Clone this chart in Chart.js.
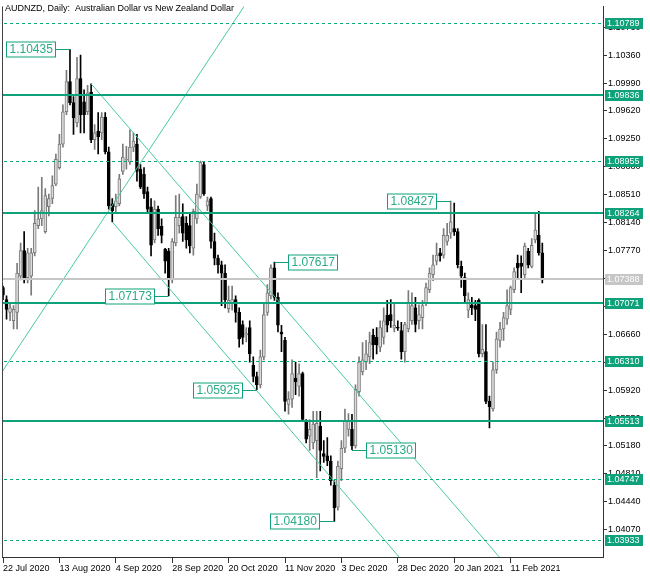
<!DOCTYPE html>
<html lang="en">
<head>
<meta charset="UTF-8">
<title>AUDNZD Daily</title>
<script src="https://cdn.jsdelivr.net/npm/chart.js"></script>
<style>
  body { margin: 0; background: #fff; }
  canvas { display: block; }
</style>
</head>
<body>
<canvas id="myChart" width="650" height="576"></canvas>
<script>
  // daily bars, 22 Jul 2020 .. late Feb 2021
  const opens = [
    1.0728, 1.0712, 1.0695, 1.0684, 1.0695, 1.0743, 1.0777, 1.0741, 1.0743, 1.0774,
    1.0810, 1.0819, 1.0802, 1.0835, 1.0846, 1.0865, 1.0887, 1.0918, 1.0961, 1.1001,
    1.0973, 1.0946, 1.1005, 1.0974, 1.0961, 1.0987, 1.0924, 1.0935, 1.0933, 1.0954,
    1.0908, 1.0839, 1.0835, 1.0839, 1.0882, 1.0897, 1.0894, 1.0914, 1.0918, 1.0885,
    1.0878, 1.0855, 1.0835, 1.0791, 1.0832, 1.0809, 1.0779, 1.0776, 1.0738, 1.0787,
    1.0810, 1.0822, 1.0813, 1.0810, 1.0780, 1.0819, 1.0848, 1.0891, 1.0836, 1.0846,
    1.0789, 1.0767, 1.0758, 1.0747, 1.0700, 1.0708, 1.0712, 1.0695, 1.0679, 1.0665,
    1.0675, 1.0625, 1.0610, 1.0599, 1.0636, 1.0695, 1.0717, 1.0754, 1.0715, 1.0669,
    1.0658, 1.0573, 1.0580, 1.0608, 1.0597, 1.0614, 1.0551, 1.0531, 1.0522, 1.0525,
    1.0544, 1.0508, 1.0505, 1.0498, 1.0466, 1.0437, 1.0488, 1.0515, 1.0540, 1.0540,
    1.0518, 1.0590, 1.0616, 1.0629, 1.0636, 1.0665, 1.0662, 1.0649, 1.0662, 1.0691,
    1.0692, 1.0674, 1.0675, 1.0671, 1.0643, 1.0673, 1.0684, 1.0701, 1.0684, 1.0688,
    1.0708, 1.0725, 1.0745, 1.0763, 1.0774, 1.0771, 1.0789, 1.0800, 1.0806, 1.0802,
    1.0756, 1.0741, 1.0698, 1.0705, 1.0704, 1.0711, 1.0640, 1.0643, 1.0577, 1.0567,
    1.0619, 1.0658, 1.0673, 1.0686, 1.0699, 1.0725, 1.0760, 1.0760, 1.0745, 1.0776,
    1.0756, 1.0791, 1.0797, 1.0774
  ];
  const highs = [
    1.0730, 1.0717, 1.0708, 1.0704, 1.0760, 1.0787, 1.0802, 1.0780, 1.0780, 1.0830,
    1.0861, 1.0874, 1.0859, 1.0852, 1.0876, 1.0905, 1.0931, 1.0970, 1.1016, 1.10435,
    1.0981, 1.1033, 1.1036, 1.0990, 1.0996, 1.0998, 1.0944, 1.0960, 1.0960, 1.0960,
    1.0914, 1.0846, 1.0852, 1.0878, 1.0918, 1.0915, 1.0937, 1.0933, 1.0931, 1.0891,
    1.0887, 1.0861, 1.0846, 1.0843, 1.0836, 1.0819, 1.0780, 1.0780, 1.0793, 1.0850,
    1.0852, 1.0839, 1.0822, 1.0826, 1.0832, 1.0865, 1.08955, 1.0894, 1.0848, 1.0848,
    1.0800, 1.0771, 1.0763, 1.0758, 1.0730, 1.0730, 1.0717, 1.0701, 1.0684, 1.0675,
    1.0684, 1.0636, 1.0616, 1.0645, 1.0708, 1.0732, 1.0758, 1.07617, 1.0721, 1.0678,
    1.0662, 1.0590, 1.0632, 1.0629, 1.0627, 1.0616, 1.0553, 1.0553, 1.0564, 1.0564,
    1.0564, 1.0525, 1.0529, 1.0505, 1.0472, 1.0498, 1.0525, 1.0567, 1.0561, 1.0560,
    1.0599, 1.0636, 1.0655, 1.0658, 1.0669, 1.0673, 1.0675, 1.0684, 1.0701, 1.0711,
    1.0712, 1.0708, 1.0684, 1.0682, 1.0682, 1.0724, 1.0721, 1.0715, 1.0705, 1.0711,
    1.0734, 1.0754, 1.0771, 1.0787, 1.0780, 1.0806, 1.0813, 1.08427, 1.0840, 1.0806,
    1.0763, 1.0747, 1.0721, 1.0715, 1.0711, 1.0713, 1.0679, 1.0679, 1.0584, 1.0629,
    1.0669, 1.0682, 1.0695, 1.0725, 1.0730, 1.0754, 1.0771, 1.0770, 1.0787, 1.0780,
    1.0793, 1.0826, 1.0829, 1.0787
  ];
  const lows = [
    1.0712, 1.0686, 1.0684, 1.0673, 1.0673, 1.0738, 1.0734, 1.0734, 1.0718, 1.0770,
    1.0806, 1.0810, 1.0800, 1.0823, 1.0839, 1.0863, 1.0885, 1.0914, 1.0957, 1.0970,
    1.0931, 1.0941, 1.0933, 1.0933, 1.0957, 1.0920, 1.0911, 1.0905, 1.0924, 1.0905,
    1.0832, 1.0815, 1.0826, 1.0836, 1.0878, 1.0885, 1.0891, 1.0908, 1.0869, 1.0859,
    1.0846, 1.0826, 1.0770, 1.0787, 1.0797, 1.0787, 1.0747, 1.07173, 1.0734, 1.0783,
    1.0800, 1.0789, 1.0780, 1.0774, 1.0771, 1.0813, 1.0846, 1.0850, 1.0830, 1.0780,
    1.0758, 1.0747, 1.0704, 1.0701, 1.0695, 1.0698, 1.0682, 1.0649, 1.0653, 1.0656,
    1.0629, 1.0603, 1.05925, 1.0595, 1.0632, 1.0691, 1.0713, 1.0711, 1.0669, 1.0643,
    1.0564, 1.0560, 1.0569, 1.0586, 1.0584, 1.0551, 1.0522, 1.0512, 1.0514, 1.0476,
    1.0485, 1.0496, 1.0492, 1.0466, 1.0418, 1.0433, 1.0472, 1.0509, 1.0531, 1.0513,
    1.0515, 1.0584, 1.0612, 1.0619, 1.0627, 1.0633, 1.0640, 1.0643, 1.0653, 1.0669,
    1.0675, 1.0669, 1.0671, 1.0633, 1.0629, 1.0669, 1.0679, 1.0669, 1.0673, 1.0673,
    1.0704, 1.0721, 1.0737, 1.0758, 1.0763, 1.0767, 1.0784, 1.0793, 1.0797, 1.0754,
    1.0728, 1.0708, 1.0688, 1.0692, 1.0684, 1.0636, 1.0636, 1.0574, 1.0542, 1.0564,
    1.0614, 1.0649, 1.0658, 1.0679, 1.0692, 1.0721, 1.0741, 1.0721, 1.0741, 1.0754,
    1.0754, 1.0787, 1.0771, 1.0734
  ];
  const closes = [
    1.0718, 1.0699, 1.0701, 1.0699, 1.0747, 1.0777, 1.0741, 1.0774, 1.0774, 1.0813,
    1.0819, 1.0830, 1.0850, 1.0846, 1.0863, 1.0898, 1.0918, 1.0961, 1.1001, 1.0973,
    1.0953, 1.1005, 1.0957, 1.0957, 1.0986, 1.0924, 1.0933, 1.0928, 1.0954, 1.0908,
    1.0836, 1.0830, 1.0843, 1.0872, 1.0901, 1.0898, 1.0914, 1.0922, 1.0882, 1.0861,
    1.0852, 1.0832, 1.0784, 1.0832, 1.0806, 1.0797, 1.0763, 1.0738, 1.0789, 1.0821,
    1.0821, 1.0800, 1.0791, 1.0783, 1.0829, 1.0852, 1.0894, 1.0852, 1.0843, 1.0789,
    1.0767, 1.0758, 1.0747, 1.0712, 1.0711, 1.0712, 1.0695, 1.0660, 1.0662, 1.0667,
    1.0640, 1.0610, 1.0599, 1.0636, 1.0692, 1.0721, 1.0754, 1.0715, 1.0678, 1.0666,
    1.0577, 1.0580, 1.0614, 1.0603, 1.0614, 1.0553, 1.0527, 1.0540, 1.0547, 1.0548,
    1.0512, 1.0504, 1.0498, 1.0472, 1.0436, 1.0491, 1.0515, 1.0551, 1.0551, 1.0518,
    1.0593, 1.0629, 1.0632, 1.0640, 1.0655, 1.0652, 1.0652, 1.0675, 1.0684, 1.0678,
    1.0684, 1.0678, 1.0674, 1.0643, 1.0679, 1.0708, 1.0704, 1.0679, 1.0692, 1.0704,
    1.0728, 1.0747, 1.0758, 1.0771, 1.0770, 1.0797, 1.0797, 1.0815, 1.0802, 1.0758,
    1.0743, 1.0717, 1.0712, 1.0701, 1.0699, 1.0640, 1.0646, 1.0577, 1.0570, 1.0619,
    1.0660, 1.0673, 1.0688, 1.0704, 1.0728, 1.0749, 1.0754, 1.0756, 1.0783, 1.0758,
    1.0784, 1.0804, 1.0774, 1.07388
  ];

  const dateTickBars = [0, 16, 32, 48, 64, 80, 96, 112, 128, 144];
  const dateLabels = ['22 Jul 2020', '13 Aug 2020', '4 Sep 2020', '28 Sep 2020', '20 Oct 2020',
                      '11 Nov 2020', '3 Dec 2020', '28 Dec 2020', '20 Jan 2021', '11 Feb 2021'];
  const priceTicks = [1.10730, 1.10360, 1.09990, 1.09620, 1.09250, 1.08880, 1.08510, 1.08140, 1.07770, 1.07400,
                      1.07030, 1.06660, 1.06290, 1.05920, 1.05550, 1.05180, 1.04810, 1.04440, 1.04070];

  const solidLevels = [1.09836, 1.08264, 1.07071, 1.05513];
  const dashedLevels = [1.10789, 1.08955, 1.06310, 1.04747, 1.03933];
  const lastPrice = 1.07388;

  // trend lines: [bar, price, bar, price]
  const trendLines = [
    [-1, 1.0611, 70, 1.1112],
    [25, 1.0998, 145, 1.0348],
    [31, 1.0815, 118, 1.0340]
  ];

  // swing high / low tags
  const swingBars = [19, 127, 77, 47, 72, 99, 94];
  const swingPrices = [1.10435, 1.08427, 1.07617, 1.07173, 1.05925, 1.05130, 1.04180];
  const swingSides = ['left', 'left', 'right', 'left', 'left', 'right', 'left'];

  const GREEN = '#0fa27a';
  const TREND = '#46cba2';
  const TAG_TEXT = '#2aaa85';
  const GREY = '#7a7a7a';

  const bars = opens.map((o, i) => i);
  const isBull = bars.map(i => closes[i] >= opens[i]);

  const overlay = {
    id: 'overlay',
    afterDatasetsDraw(chart) {
      const c = chart.ctx, a = chart.chartArea, y = chart.scales.y;
      c.save();
      c.beginPath();
      c.rect(a.left, a.top, a.right - a.left, a.bottom - a.top);
      c.clip();

      let py = Math.round(y.getPixelForValue(lastPrice));
      c.strokeStyle = '#c6c6c6';
      c.lineWidth = 2;
      c.beginPath(); c.moveTo(a.left, py); c.lineTo(a.right, py); c.stroke();

      c.strokeStyle = GREEN;
      solidLevels.forEach(v => {
        py = Math.round(y.getPixelForValue(v));
        c.beginPath(); c.moveTo(a.left, py); c.lineTo(a.right, py); c.stroke();
      });

      // dotted levels: short green dashes
      c.fillStyle = '#0aa878';
      dashedLevels.forEach(v => {
        py = Math.round(y.getPixelForValue(v));
        for (let px = a.left + 2; px < a.right; px += 6) {
          c.fillRect(px, py, 3, 1);
        }
      });
      c.restore();

      // left frame
      c.save();
      c.strokeStyle = '#444';
      c.lineWidth = 1;
      c.beginPath();
      c.moveTo(a.left + 0.5, a.top);
      c.lineTo(a.left + 0.5, a.bottom);
      c.stroke();
      c.restore();
    },
    afterDraw(chart) {
      const c = chart.ctx, a = chart.chartArea, x = chart.scales.x, y = chart.scales.y;
      c.save();

      // price tags on the right axis
      c.font = '9px "Liberation Sans"';
      c.textBaseline = 'middle';
      const tag = (v, col) => {
        const py = Math.round(y.getPixelForValue(v));
        c.fillStyle = col;
        c.fillRect(a.right + 2, py - 5, 38, 11);
        c.fillStyle = '#fff';
        c.fillText(v.toFixed(5), a.right + 4, py + 0.5);
      };
      tag(lastPrice, '#c6c6c6');
      solidLevels.concat(dashedLevels).forEach(v => tag(v, GREEN));

      // swing tags
      c.font = '12px "Liberation Sans"';
      swingBars.forEach((b, k) => {
        const px = x.getPixelForValue(b);
        const py = Math.round(y.getPixelForValue(swingPrices[k])) + 0.5;
        const txt = swingPrices[k].toFixed(5);
        const w = Math.round(c.measureText(txt).width) + 6;
        const h = 15;
        let bx;
        if (swingSides[k] === 'left') bx = Math.round(px - 15 - w) + 0.5;
        else bx = Math.round(px + 14) + 0.5;
        const by = Math.round(py - h / 2);
        c.strokeStyle = GREEN;
        c.lineWidth = 1;
        c.beginPath();
        if (swingSides[k] === 'left') { c.moveTo(bx + w, py); c.lineTo(px, py); }
        else { c.moveTo(bx, py); c.lineTo(px, py); }
        c.stroke();
        c.fillStyle = '#fff';
        c.fillRect(bx, by, w, h);
        c.strokeRect(bx, by, w, h);
        c.fillStyle = TAG_TEXT;
        c.fillText(txt, bx + 3, by + h / 2 + 0.5);
      });

      // title
      c.font = '9px "Liberation Sans"';
      c.fillStyle = '#000';
      c.fillText('AUDNZD, Daily:  Australian Dollar vs New Zealand Dollar', 5, 9);
      c.restore();
    }
  };

  const ctx = document.getElementById('myChart');

  new Chart(ctx, {
    type: 'bar',
    data: {
      datasets: [
        ...trendLines.map(t => ({
          type: 'line',
          data: [{x: t[0], y: t[1]}, {x: t[2], y: t[3]}],
          borderColor: TREND,
          borderWidth: 1,
          pointRadius: 0,
          order: 0
        })),
        {
          data: bars.map(i => ({x: i, y: [opens[i], closes[i]]})),
          backgroundColor: bars.map(i => isBull[i] ? '#dcdcdc' : '#000000'),
          borderColor: bars.map(i => isBull[i] ? GREY : '#000000'),
          borderWidth: 1,
          borderSkipped: false,
          barThickness: 3,
          minBarLength: 1,
          grouped: false,
          order: 1
        },
        {
          data: bars.map(i => ({x: i, y: [lows[i], highs[i]]})),
          backgroundColor: bars.map(i => isBull[i] ? GREY : '#000000'),
          borderWidth: 0,
          barThickness: 1,
          grouped: false,
          order: 2
        }
      ]
    },
    options: {
      responsive: false,
      animation: false,
      devicePixelRatio: 1,
      layout: { padding: { left: 2, top: 0, right: 0, bottom: 0 } },
      plugins: { legend: { display: false }, tooltip: { enabled: false } },
      scales: {
        x: {
          type: 'linear',
          min: -0.284,
          max: 170.21,
          offset: false,
          afterBuildTicks: s => { s.ticks = dateTickBars.map(v => ({value: v})); },
          afterFit: s => { s.height = 19; },
          grid: { offset: false, drawOnChartArea: false, drawTicks: true, tickLength: 6, color: '#333' },
          border: { display: true, color: '#333' },
          ticks: {
            autoSkip: false,
            maxRotation: 0,
            align: 'start',
            padding: 0,
            color: '#000',
            font: { family: 'Liberation Sans', size: 9 },
            callback: v => {
              const k = dateTickBars.indexOf(v);
              return k >= 0 ? dateLabels[k] : '';
            }
          }
        },
        y: {
          position: 'right',
          min: 1.03708,
          max: 1.11006,
          afterBuildTicks: s => { s.ticks = priceTicks.map(v => ({value: v})); },
          afterFit: s => { s.width = 47; },
          grid: { drawOnChartArea: false, drawTicks: true, tickLength: 4, color: '#333' },
          border: { display: true, color: '#333' },
          ticks: {
            autoSkip: false,
            padding: 1,
            color: '#000',
            font: { family: 'Liberation Sans', size: 9 },
            callback: v => v.toFixed(5)
          }
        }
      }
    },
    plugins: [overlay]
  });
</script>
</body>
</html>
